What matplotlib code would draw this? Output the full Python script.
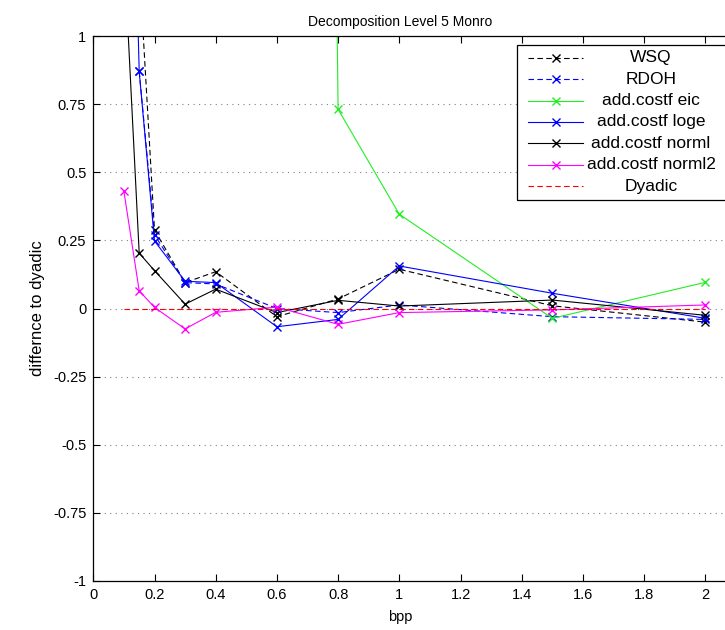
import numpy as np
import matplotlib
matplotlib.use('Agg')
import matplotlib.pyplot as plt
from matplotlib.lines import Line2D
from matplotlib.patches import Rectangle

plt.rcParams['font.family'] = ['Liberation Sans', 'DejaVu Sans']

# данные
bpp = [0.1, 0.15, 0.2, 0.3, 0.4, 0.6, 0.8, 1.0, 1.5, 2.0]
bpp_wsq = [0.15, 0.2, 0.3, 0.4, 0.6, 0.8, 1.0, 1.5, 2.0]
wsq = [1.26, 0.288, 0.095, 0.135, -0.03, 0.035, 0.144, 0.01, -0.05]
bpp_rdoh = [0.15, 0.2, 0.3, 0.4, 0.6, 0.8, 1.0, 1.5, 2.0]
rdoh = [0.87, 0.27, 0.095, 0.09, 0.0, -0.015, 0.013, -0.03, -0.04]
bpp_eic = [0.6, 0.8, 1.0, 1.5, 2.0]
eic = [20.0, 0.731, 0.346, -0.036, 0.096]
loge = [3.0, 0.87, 0.248, 0.1, 0.095, -0.067, -0.04, 0.156, 0.056, -0.036]
norml = [1.32, 0.203, 0.139, 0.016, 0.071, -0.015, 0.03, 0.009, 0.031, -0.025]
norml2 = [0.43, 0.065, 0.004, -0.075, -0.014, 0.005, -0.058, -0.015, -0.005, 0.013]
dyadic = [0, 0, 0, 0, 0, 0, 0, 0, 0, 0]

labels = ['WSQ', 'RDOH', 'add.costf eic', 'add.costf loge',
          'add.costf norml', 'add.costf norml2', 'Dyadic']
xticks = [0, 0.2, 0.4, 0.6, 0.8, 1.0, 1.2, 1.4, 1.6, 1.8, 2.0]
xtick_labels = ['0', '0.2', '0.4', '0.6', '0.8', '1', '1.2', '1.4', '1.6', '1.8', '2']
yticks = [-1, -0.75, -0.5, -0.25, 0, 0.25, 0.5, 0.75, 1]
ytick_labels = ['-1', '-0.75', '-0.5', '-0.25', '0', '0.25', '0.5', '0.75', '1']

W, H = 725, 630
fig = plt.figure(figsize=(W/100, H/100), dpi=100)
# ось обрезана справа, как на исходной картинке
ax = fig.add_axes([93.3/W, (H-581)/H, 673.2/W, 545/H])

lw = 0.8
ms = 6
ax.plot(bpp_wsq, wsq, color='black', ls='--', lw=lw, marker='x', ms=ms, dashes=(5, 3))
ax.plot(bpp_rdoh, rdoh, color='blue', ls='--', lw=lw, marker='x', ms=ms, dashes=(5, 3))
ax.plot(bpp_eic, eic, color='#22ee22', lw=lw, marker='x', ms=ms)
ax.plot(bpp, loge, color='blue', lw=lw, marker='x', ms=ms)
ax.plot(bpp, norml, color='black', lw=lw, marker='x', ms=ms)
ax.plot(bpp, norml2, color='magenta', lw=lw, marker='x', ms=ms)
ax.plot(bpp, dyadic, color='red', ls='--', lw=lw, dashes=(5, 3))

ax.set_xlim(0, 2.2)
ax.set_ylim(-1, 1)
ax.set_xticks(xticks)
ax.set_xticklabels(xtick_labels)
ax.set_yticks(yticks)
ax.set_yticklabels(ytick_labels)
ax.tick_params(direction='in', top=True, right=True, length=5, labelsize=10.5, width=0.8, pad=5)
ax.yaxis.grid(True, ls=(0, (1, 4)), color='gray', lw=0.8)
for s in ax.spines.values():
	s.set_linewidth(0.9)

# подписи центрированы по x=1 (как у matlab, где ось кончалась на 2)
xc = (400 - 93.3) / 673.2
ax.set_xlabel('bpp', fontsize=10.5, labelpad=6, x=xc)
ax.set_ylabel('differnce to dyadic', fontsize=12, labelpad=6)
ax.set_title('Decomposition Level 5 Monro', fontsize=10, pad=7, x=xc)

# легенда вручную (текст по центру, как в matlab)
styles = [('black', '--', 'x'), ('blue', '--', 'x'), ('#22ee22', '-', 'x'),
          ('blue', '-', 'x'), ('black', '-', 'x'), ('magenta', '-', 'x'), ('red', '--', '')]
def px(x, y):
	return x/W, 1 - y/H
x0, y0 = px(517, 45)
x1, y1 = px(760, 200)
fig.patches.append(Rectangle((x0, y1), x1-x0, y0-y1, transform=fig.transFigure,
	facecolor='white', edgecolor='black', lw=0.9, zorder=5))
for i in range(len(labels)):
	yy = 57.7 + 21.4*i
	c, ls, m = styles[i]
	la, lb = px(528, yy)
	lc, ld = px(583, yy)
	ln = Line2D([la, lc], [lb, ld], transform=fig.transFigure, color=c, ls=ls, lw=lw, zorder=6)
	if ls == '--':
		ln.set_dashes((5, 3))
	fig.lines.append(ln)
	if m:
		mx, my = px(556, yy)
		fig.lines.append(Line2D([mx], [my], transform=fig.transFigure, color=c, ls='none',
			marker=m, ms=ms, zorder=7))
	tx, ty = px(651, yy)
	fig.text(tx, ty, labels[i], ha='center', va='center', fontsize=12.5, zorder=8)

plt.savefig('out.png', dpi=100)
